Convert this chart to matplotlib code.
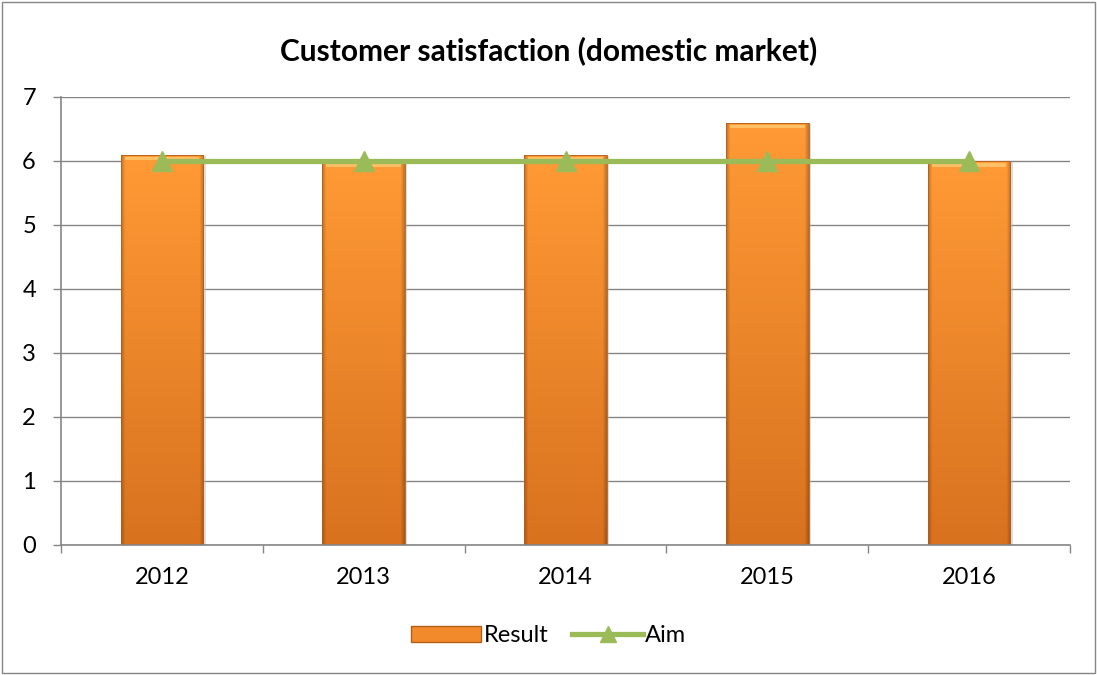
import numpy as np
import matplotlib.pyplot as plt
from matplotlib.patches import Rectangle
from matplotlib.lines import Line2D
from matplotlib.colors import to_rgb

years = ['2012', '2013', '2014', '2015', '2016']
result = [6.1, 6.0, 6.1, 6.6, 6.0]
aim = [6.0, 6.0, 6.0, 6.0, 6.0]

plt.rcParams['font.family'] = ['Lato', 'DejaVu Sans']

fig = plt.figure(figsize=(10.97, 6.75), dpi=100)
ax = fig.add_axes([0.0556, 0.1926, 0.9198, 0.6637])

x = np.arange(len(years))
bar_w = 0.41

# gradient image for the bars: darker at the edges and the bottom
def bar_gradient(n=200):
    top = np.array(to_rgb('#ff9a36'))
    bot = np.array(to_rgb('#d8721f'))
    v = np.linspace(0, 1, n)[:, None, None]
    img = bot * (1 - v) + top * v
    h = np.linspace(-1, 1, n)[None, :, None]
    edge = 1 - 0.25 * np.clip((np.abs(h) - 0.9) / 0.1, 0, 1)
    img = img * edge
    return np.clip(img, 0, 1)

grad = bar_gradient()
bars = ax.bar(x, result, width=bar_w, color='none', edgecolor='none', zorder=2)
for b in bars:
    bx, by = b.get_x(), b.get_y()
    bw, bh = b.get_width(), b.get_height()
    # soft shadow
    ax.add_patch(Rectangle((bx + 0.012, by), bw, bh - 0.02, color='#bbbbbb',
                           alpha=0.5, zorder=1.5, lw=0))
    im = ax.imshow(grad, extent=[bx, bx + bw, by, by + bh], origin='lower',
                   aspect='auto', zorder=2, interpolation='bilinear')
    clip = Rectangle((bx, by), bw, bh, transform=ax.transData)
    im.set_clip_path(clip)
    # bevel highlight near the top
    ax.add_patch(Rectangle((bx + 0.02, by + bh - 0.09), bw - 0.04, 0.06,
                           color='#ffd27a', alpha=0.7, lw=0, zorder=2.1))
    ax.add_patch(Rectangle((bx, by), bw, bh, fill=False, edgecolor='#b35f1a',
                           lw=0.6, zorder=2.2))

ax.plot(x, aim, color='#9bbb59', lw=3.8, marker='^', markersize=14,
        zorder=3)

ax.set_xlim(-0.5, len(years) - 0.5)
ax.set_ylim(0, 7)
ax.set_yticks(range(0, 8))
ax.set_xticks(x)
ax.set_xticklabels(years)
ax.set_xticks(np.arange(-0.5, len(years)), minor=True)
ax.tick_params(axis='x', which='major', length=0, pad=16, labelsize=17)
ax.tick_params(axis='x', which='minor', length=6, color='#868686', width=1)
ax.tick_params(axis='y', length=6, color='#868686', width=1, labelsize=17, pad=12)
ax.grid(axis='y', color='#868686', lw=1, zorder=0)
ax.set_axisbelow(True)
for s in ['top', 'right']:
    ax.spines[s].set_visible(False)
for s in ['left', 'bottom']:
    ax.spines[s].set_color('#868686')
    ax.spines[s].set_linewidth(1.2)

fig.text(0.5, 0.925, 'Customer satisfaction (domestic market)', ha='center',
         va='center', fontsize=21.5, fontweight='bold')

handles = [Rectangle((0, 0), 1, 1, facecolor='#f28a2c', edgecolor='#b35f1a'),
           Line2D([0], [0], color='#9bbb59', lw=3.8, marker='^', markersize=12)]
fig.legend(handles, ['Result', 'Aim'], loc='center', bbox_to_anchor=(0.5, 0.058),
           ncol=2, frameon=False, fontsize=17, handlelength=3.0,
           handletextpad=0.1, columnspacing=1.0)

fig.add_artist(Rectangle((0.002, 0.003), 0.996, 0.994, transform=fig.transFigure,
                         fill=False, edgecolor='#868686', lw=1))

fig.savefig('out.png', dpi=100)
